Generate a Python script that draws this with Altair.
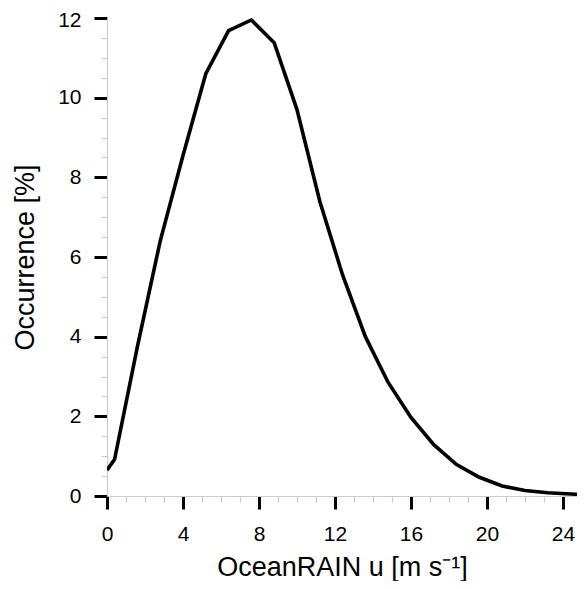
import altair as alt
import pandas as pd

# Data
wind_speed = [0.0, 0.4, 1.6, 2.8, 4.0, 5.2, 6.4, 7.6, 8.8, 10.0, 11.2, 12.4,
              13.6, 14.8, 16.0, 17.2, 18.4, 19.6, 20.8, 22.0, 23.2, 24.4, 25.6]
occurrence = [0.65, 0.92, 3.75, 6.4, 8.55, 10.6, 11.68, 11.95, 11.38, 9.7, 7.4, 5.55,
              4.0, 2.85, 1.97, 1.29, 0.79, 0.47, 0.25, 0.14, 0.08, 0.05, 0.03]

x_major = [0, 4, 8, 12, 16, 20, 24]
x_minor = [v for v in range(0, 26) if v % 4 != 0]
y_major = [0, 2, 4, 6, 8, 10, 12]
y_minor = [v / 2 for v in range(0, 25) if v % 4 != 0]

df = pd.DataFrame({"u": wind_speed, "occ": occurrence})

FONT = "Liberation Sans"
x_scale = alt.Scale(domain=[0, 24.74], nice=False, zero=False)
y_scale = alt.Scale(domain=[0, 12], nice=False)

line = alt.Chart(df).mark_line(color="black", strokeWidth=3.6, clip=True).encode(
    x=alt.X("u:Q", scale=x_scale, axis=alt.Axis(
        orient="bottom", values=x_major, title="OceanRAIN u [m s⁻¹]",
        domainColor="#cccccc", domainWidth=1.2,
        tickColor="black", tickWidth=3, tickSize=13,
        labelFont=FONT, labelFontSize=21, labelColor="black", labelPadding=14,
        labelFlush=False,
        titleFont=FONT, titleFontSize=27, titleFontWeight="normal", titleColor="black",
        titleBaseline="alphabetic", titleY=79, grid=False)),
    y=alt.Y("occ:Q", scale=y_scale, axis=alt.Axis(
        orient="left", values=y_major, title="Occurrence [%]",
        domainColor="#cccccc", domainWidth=1.2,
        tickColor="black", tickWidth=3, tickSize=13,
        labelFont=FONT, labelFontSize=21, labelColor="black", labelPadding=13,
        labelOffset={"condition": {"test": "datum.value === 12", "value": 2}, "value": 0},
        labelFlush=False,
        titleFont=FONT, titleFontSize=27, titleFontWeight="normal", titleColor="black",
        titleBaseline="alphabetic", titleX=-74, grid=False)),
)

minor = alt.Chart(df).mark_line(opacity=0).encode(
    x=alt.X("u:Q", scale=x_scale, axis=alt.Axis(
        orient="bottom", values=x_minor, labels=False, domain=False, title=None,
        tickColor="#cccccc", tickWidth=1.2, tickSize=6, grid=False)),
    y=alt.Y("occ:Q", scale=y_scale, axis=alt.Axis(
        orient="left", values=y_minor, labels=False, domain=False, title=None,
        tickColor="#cccccc", tickWidth=1.2, tickSize=6, grid=False)),
)

chart = alt.layer(minor, line).resolve_axis(x="independent", y="independent").properties(
    width=470, height=478,
    padding={"left": 99, "top": 10, "right": 0, "bottom": 85},
    autosize=alt.AutoSizeParams(type="none"),
    background="white",
).configure_view(stroke=None)

chart.save("out.html", embed_options={"renderer": "svg", "actions": False})
